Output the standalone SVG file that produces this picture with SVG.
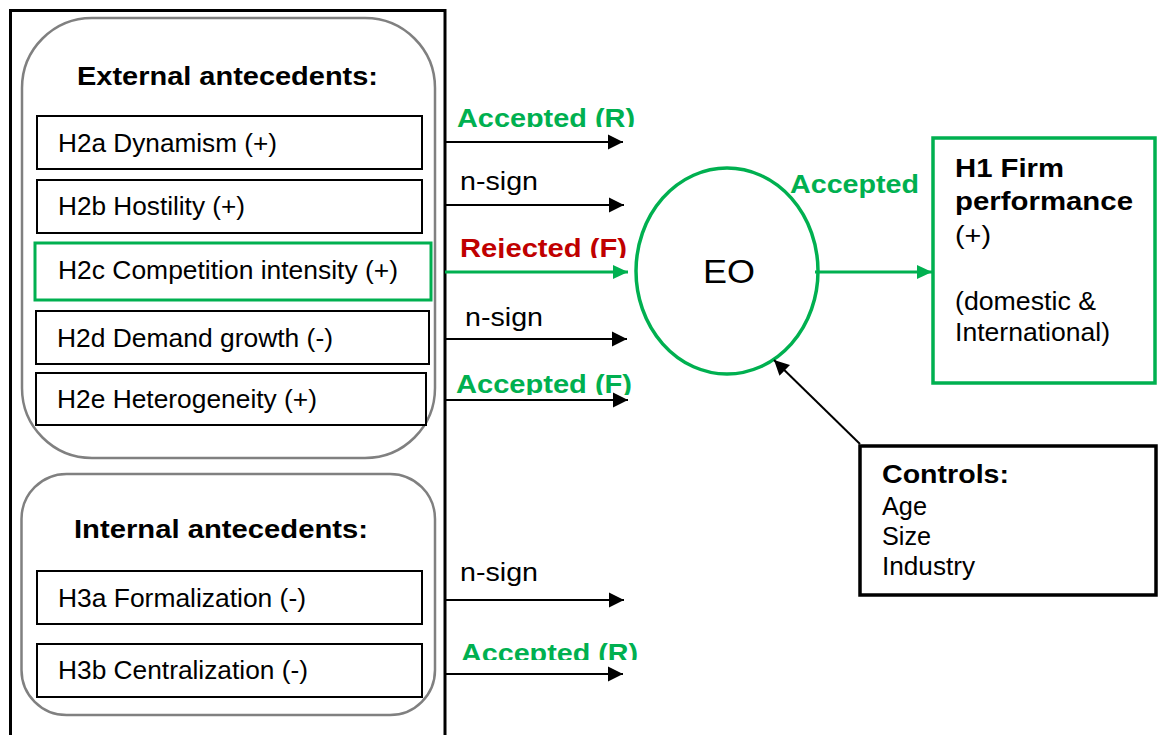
<svg xmlns="http://www.w3.org/2000/svg" width="1160" height="735" viewBox="0 0 1160 735">
  <style>
    text { font-family: "Liberation Sans", Arial, sans-serif; fill: #000; }
    .item { font-size: 25px; }
    .head { font-size: 26px; font-weight: bold; }
    .ok { font-size: 26px; font-weight: bold; fill: #00B050; }
    .bad { font-size: 26px; font-weight: bold; fill: #C00000; }
    .ns { font-size: 25px; }
    .box { fill: #fff; stroke: #000; stroke-width: 2; }
    .group { fill: #fff; stroke: #808080; stroke-width: 2.5; }
    .link { stroke: #000; stroke-width: 2; fill: none; }
    .glink { stroke: #00B050; stroke-width: 3; fill: none; }
  </style>
  <defs>
    <marker id="arrow" markerUnits="userSpaceOnUse" markerWidth="16" markerHeight="16" refX="15" refY="8" orient="auto">
      <path d="M0,0.5 L15,8 L0,15.5 Z" fill="#000"/>
    </marker>
    <marker id="garrow" markerUnits="userSpaceOnUse" markerWidth="16" markerHeight="16" refX="15" refY="8" orient="auto">
      <path d="M0,1 L15,8 L0,15 Z" fill="#00B050"/>
    </marker>
    <clipPath id="clipA"><rect x="440" y="90" width="220" height="37"/></clipPath>
    <clipPath id="clipB"><rect x="440" y="220" width="220" height="38"/></clipPath>
    <clipPath id="clipC"><rect x="440" y="355" width="220" height="40"/></clipPath>
    <clipPath id="clipD"><rect x="440" y="625" width="220" height="35"/></clipPath>
  </defs>

  <!-- outer frame of the antecedents column -->
  <rect id="frame" x="10.5" y="10.5" width="434.5" height="740" fill="#fff" stroke="#000" stroke-width="3"/>

  <!-- external antecedents -->
  <g id="external">
    <rect class="group" x="22" y="18" width="413" height="440" rx="70" ry="70"/>
    <text class="head" x="77" y="85" textLength="301" lengthAdjust="spacingAndGlyphs">External antecedents:</text>
  </g>
  <g id="h2a">
    <rect class="box" x="37" y="116" width="385" height="53"/>
    <text class="item" x="58" y="152" textLength="219" lengthAdjust="spacingAndGlyphs">H2a Dynamism (+)</text>
  </g>
  <g id="h2b">
    <rect class="box" x="37" y="180" width="385" height="53"/>
    <text class="item" x="58" y="215" textLength="187" lengthAdjust="spacingAndGlyphs">H2b Hostility (+)</text>
  </g>
  <g id="h2c">
    <rect x="35" y="243" width="396" height="57" fill="#fff" stroke="#00B050" stroke-width="3"/>
    <text class="item" x="58" y="279" textLength="340" lengthAdjust="spacingAndGlyphs">H2c Competition intensity (+)</text>
  </g>
  <g id="h2d">
    <rect class="box" x="36" y="311" width="393" height="53"/>
    <text class="item" x="57" y="347" textLength="276" lengthAdjust="spacingAndGlyphs">H2d Demand growth (-)</text>
  </g>
  <g id="h2e">
    <rect class="box" x="36" y="373" width="390" height="52"/>
    <text class="item" x="57" y="408" textLength="260" lengthAdjust="spacingAndGlyphs">H2e Heterogeneity (+)</text>
  </g>

  <!-- internal antecedents -->
  <g id="internal">
    <rect class="group" x="21.5" y="474" width="413.5" height="241" rx="45" ry="45"/>
    <text class="head" x="74" y="538" textLength="294" lengthAdjust="spacingAndGlyphs">Internal antecedents:</text>
  </g>
  <g id="h3a">
    <rect class="box" x="37" y="571" width="385" height="53"/>
    <text class="item" x="58" y="607" textLength="248" lengthAdjust="spacingAndGlyphs">H3a Formalization (-)</text>
  </g>
  <g id="h3b">
    <rect class="box" x="37" y="644" width="385" height="53"/>
    <text class="item" x="58" y="679" textLength="250" lengthAdjust="spacingAndGlyphs">H3b Centralization (-)</text>
  </g>

  <!-- EO construct -->
  <g id="eo">
    <ellipse cx="727" cy="271" rx="91" ry="103" fill="#fff" stroke="#00B050" stroke-width="3.5"/>
    <text x="729" y="283" font-size="34" text-anchor="middle" textLength="52" lengthAdjust="spacingAndGlyphs">EO</text>
  </g>

  <!-- outcome -->
  <g id="h1">
    <rect x="933" y="138" width="222" height="245" fill="#fff" stroke="#00B050" stroke-width="3.5"/>
    <text x="955" y="177" font-size="26" font-weight="bold" textLength="109" lengthAdjust="spacingAndGlyphs">H1 Firm</text>
    <text x="955" y="210" font-size="26" font-weight="bold" textLength="178" lengthAdjust="spacingAndGlyphs">performance</text>
    <text x="955" y="244" font-size="25" textLength="36" lengthAdjust="spacingAndGlyphs">(+)</text>
    <text x="955" y="310" font-size="25" textLength="141" lengthAdjust="spacingAndGlyphs">(domestic &amp;</text>
    <text x="955" y="341" font-size="25" textLength="155" lengthAdjust="spacingAndGlyphs">International)</text>
  </g>

  <!-- control variables -->
  <g id="controls">
    <rect x="860" y="446" width="296" height="149" fill="#fff" stroke="#000" stroke-width="3.5"/>
    <text x="882" y="483" font-size="26" font-weight="bold" textLength="127" lengthAdjust="spacingAndGlyphs">Controls:</text>
    <text x="882" y="515" font-size="25" textLength="45" lengthAdjust="spacingAndGlyphs">Age</text>
    <text x="882" y="545" font-size="25" textLength="49" lengthAdjust="spacingAndGlyphs">Size</text>
    <text x="882" y="575" font-size="25" textLength="93" lengthAdjust="spacingAndGlyphs">Industry</text>
  </g>

  <!-- paths and their results -->
  <g id="connectors">
    <line class="link" x1="445" y1="142" x2="623" y2="142" marker-end="url(#arrow)"/>
    <line class="link" x1="445" y1="205" x2="624" y2="205" marker-end="url(#arrow)"/>
    <line class="glink" x1="445" y1="272" x2="628" y2="272" marker-end="url(#garrow)"/>
    <line class="link" x1="445" y1="339" x2="627" y2="339" marker-end="url(#arrow)"/>
    <line class="link" x1="445" y1="400" x2="628" y2="400" marker-end="url(#arrow)"/>
    <line class="link" x1="445" y1="600" x2="624" y2="600" marker-end="url(#arrow)"/>
    <line class="link" x1="445" y1="674" x2="623" y2="674" marker-end="url(#arrow)"/>
    <line class="glink" x1="815" y1="272" x2="932" y2="272" marker-end="url(#garrow)"/>
    <line class="link" x1="860" y1="444" x2="774" y2="360" marker-end="url(#arrow)"/>

    <text class="ok" x="457" y="127" clip-path="url(#clipA)" textLength="178" lengthAdjust="spacingAndGlyphs">Accepted (R)</text>
    <text class="ns" x="460" y="190" textLength="78" lengthAdjust="spacingAndGlyphs">n-sign</text>
    <text class="bad" x="460" y="257" clip-path="url(#clipB)" textLength="167" lengthAdjust="spacingAndGlyphs">Rejected (F)</text>
    <text class="ns" x="465" y="326" textLength="78" lengthAdjust="spacingAndGlyphs">n-sign</text>
    <text class="ok" x="456" y="393" clip-path="url(#clipC)" textLength="176" lengthAdjust="spacingAndGlyphs">Accepted (F)</text>
    <text class="ns" x="460" y="581" textLength="78" lengthAdjust="spacingAndGlyphs">n-sign</text>
    <text class="ok" x="461" y="662" clip-path="url(#clipD)" textLength="177" lengthAdjust="spacingAndGlyphs">Accepted (R)</text>
    <text class="ok" x="790" y="193" textLength="129" lengthAdjust="spacingAndGlyphs">Accepted</text>
  </g>
</svg>
